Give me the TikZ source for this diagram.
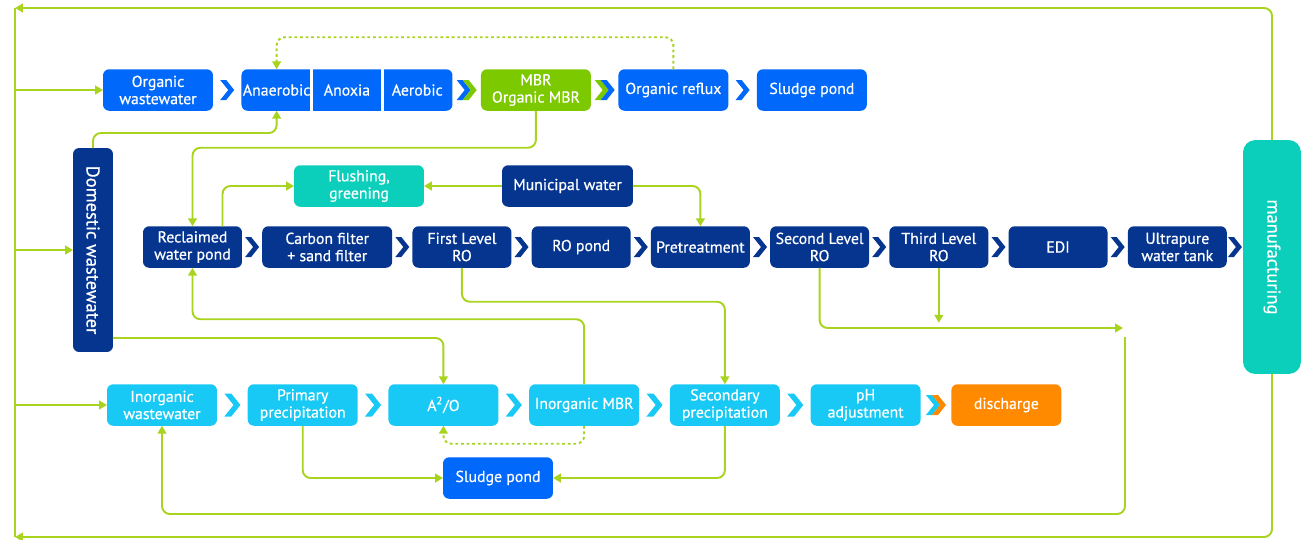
\documentclass[tikz,border=0pt]{standalone}
\usepackage{fontspec}
\setmainfont{PT Sans}[UprightFeatures={FakeBold=0.6}]
\usepackage{tikz}
\usetikzlibrary{positioning,arrows.meta,calc}
\definecolor{navy}{HTML}{06358F}
\definecolor{bblue}{HTML}{0068FA}
\definecolor{lblue}{HTML}{17C9F4}
\definecolor{mgreen}{HTML}{7DC900}
\definecolor{cteal}{HTML}{0CCFBB}
\definecolor{corange}{HTML}{FF8A00}
\definecolor{flowgreen}{HTML}{A8D420}
\tikzset{
  >={Triangle[length=4.5pt,width=5pt]},
  box/.style={rectangle, rounded corners=3.5pt, minimum height=0.83cm, inner sep=1pt,
    outer sep=0pt, align=center, text=white, font=\fontsize{9}{9.8}\selectfont},
  topbox/.style={box, fill=bblue, minimum width=2.2cm},
  midbox/.style={box, fill=navy, minimum width=1.98cm},
  lowbox/.style={box, fill=lblue, minimum width=2.2cm},
  sidebox/.style={box, rotate=-90, font=\fontsize{10.5}{12}\selectfont},
  pipe/.style={draw=flowgreen, line width=1.1pt},
  flow/.style={pipe, rounded corners=4.5pt, ->},
  reflux/.style={flow, dash pattern=on 1.6pt off 1.6pt},
  chev/.pic={\fill[#1] (-7,-10) -- (-1,-10) -- (7,0) -- (-1,10) -- (-7,10) -- (1,0) -- cycle;},
}
\begin{document}
\begin{tikzpicture}[x=0.02cm, y=-0.02cm, node distance=0.405cm]
\useasboundingbox (0,0) rectangle (1306,539);

\node[topbox] (ow) at (158,90) {Organic\\wastewater};
\node[topbox, minimum width=4.22cm, right=0.57cm of ow] (tank) {};
\node[topbox, fill=mgreen, right=0.57cm of tank] (mbr) {MBR\\Organic MBR};
\node[topbox, right=0.55cm of mbr] (orefl) {Organic reflux};
\node[topbox, right=0.57cm of orefl] (sp1) {Sludge pond};
\foreach \n/\t/\f in {anaer/Anaerobic/0.1667, anox/Anoxia/0.5, aer/Aerobic/0.8333}
  \node[box] (\n) at ($(tank.west)!\f!(tank.east)$) {\t};
\foreach \f in {0.3333,0.6667}
  \draw[white, line width=1.7pt] ($(tank.south west)!\f!(tank.south east)$) -- ($(tank.north west)!\f!(tank.north east)$);

\node[sidebox, fill=navy, minimum width=4.08cm, minimum height=0.8cm] (dom) at (93,250) {Domestic wastewater};
\node[box, fill=cteal, minimum width=2.6cm] (flush) at (359,186) {Flushing,\\greening};
\node[box, fill=navy, minimum width=2.62cm] (mun) at (567.5,186) {Municipal water};

\node[midbox] (rwp) at (192.5,247) {Reclaimed\\water pond};
\node[midbox, minimum width=2.6cm, right=of rwp] (cf) {Carbon filter\\+ sand filter};
\node[midbox, right=of cf] (ro1) {First Level\\RO};
\node[midbox, right=of ro1] (ropd) {RO pond};
\node[midbox, right=of ropd] (pre) {Pretreatment};
\node[midbox, right=of pre] (ro2) {Second Level\\RO};
\node[midbox, right=of ro2] (ro3) {Third Level\\RO};
\node[midbox, right=of ro3] (edi) {EDI};
\node[midbox, right=of edi] (upw) {Ultrapure\\water tank};
\node[sidebox, fill=cteal, minimum width=4.68cm, minimum height=1.16cm, rounded corners=7pt] (manu) at (1272,257) {manufacturing};

\node[lowbox] (iw) at (162,405) {Inorganic\\wastewater};
\node[lowbox, right=0.615cm of iw] (pp) {Primary\\precipitation};
\node[lowbox, right=0.615cm of pp] (a2o) {A\textsuperscript{2}/O};
\node[lowbox, right=0.615cm of a2o] (imbr) {Inorganic MBR};
\node[lowbox, right=0.615cm of imbr] (sec) {Secondary\\precipitation};
\node[lowbox, right=0.615cm of sec] (ph) {pH\\adjustment};
\node[lowbox, fill=corange, right=0.615cm of ph] (dis) {discharge};
\node[topbox] (sp2) at (498,478) {Sludge pond};

\foreach \a/\b in {ow/tank, orefl/sp1}
  \pic at ($(\a.east)!.5!(\b.west)$) {chev=bblue};
\pic at ($(tank.east)!.5!(mbr.west)+(-3,0)$) {chev=bblue};
\pic at ($(tank.east)!.5!(mbr.west)+(3,0)$) {chev=mgreen};
\pic at ($(mbr.east)!.5!(orefl.west)+(-3,0)$) {chev=mgreen};
\pic at ($(mbr.east)!.5!(orefl.west)+(3,0)$) {chev=bblue};
\foreach \a/\b in {rwp/cf, cf/ro1, ro1/ropd, ropd/pre, pre/ro2, ro2/ro3, ro3/edi, edi/upw}
  \pic at ($(\a.east)!.5!(\b.west)$) {chev=navy};
\pic at ($(upw.east)!.5!(upw.east -| manu.south)$) {chev=navy};
\foreach \a/\b in {iw/pp, pp/a2o, a2o/imbr, imbr/sec, sec/ph}
  \pic[scale=1.15] at ($(\a.east)!.5!(\b.west)$) {chev=lblue};
\pic at ($(ph.east)!.5!(dis.west)+(-3,0)$) {chev=lblue};
\pic at ($(ph.east)!.5!(dis.west)+(3,0)$) {chev=corange};

\coordinate (tl) at (15,8);
\coordinate (bl) at (15,537);
\coordinate (rin) at (1123,328);
\coordinate (rout) at (1125,337);
\draw[flow] (manu.west) |- (tl);
\draw[flow] (manu.east) |- (bl);
\draw[pipe] (tl) -- (bl);
\draw[flow] (tl |- ow.west) -- (ow.west);
\draw[flow] (tl |- dom.south) -- (dom.south);
\draw[flow] (tl |- iw.west) -- (iw.west);

\draw[reflux] (orefl.north) -- ++(0,-32) -| (anaer |- tank.north);
\draw[flow] (dom.west) -- ++(0,-15) -| (anaer |- tank.south);
\draw[flow] (mbr.south) -- ++(0,37) -| (rwp.north);
\draw[flow] ([xshift=0.6cm]rwp.north) |- (flush.west);
\draw[flow] (mun.west) -- (flush.east);
\draw[flow] (mun.east) -| (pre.north);
\draw[flow] (ro1.south) -- ++(0,34) -| (sec.north);
\draw[flow] (imbr.north) -- ++(0,-65) -| (rwp.south);
\draw[flow] (ro2.south) |- (rin);
\draw[flow] (ro3.south) -- ++(0,55);
\draw[flow] (rout) -- ++(0,177) -| (iw.south);
\draw[flow] ($(dom.north east)+(0,-14)$) -| (a2o.north);
\draw[reflux] (imbr.south) -- ++(0,18) -| (a2o.south);
\draw[flow] (pp.south) |- (sp2.west);
\draw[flow] (sec.south) |- (sp2.east);
\end{tikzpicture}
\end{document}
